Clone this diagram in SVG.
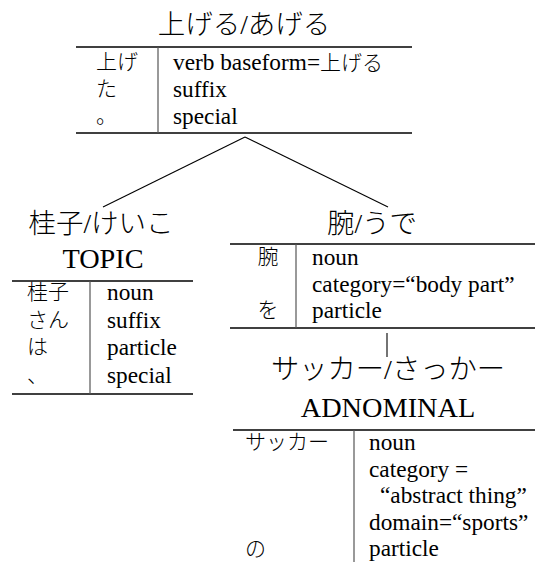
<svg xmlns="http://www.w3.org/2000/svg" width="545" height="562" viewBox="0 0 545 562">
<style>
.title{font-family:"Liberation Serif","Noto Sans CJK JP",serif;font-size:27.5px;fill:#000;text-anchor:middle;font-weight:300}
.role{font-family:"Liberation Serif",serif;font-size:28.3px;fill:#000;text-anchor:middle}
.t{font-family:"Liberation Serif","Noto Sans CJK JP",serif;font-size:23.3px;fill:#000}
.j{font-family:"Liberation Serif","Noto Sans CJK JP",sans-serif;font-size:21px;fill:#000;font-weight:300}
.jm{font-family:"Liberation Serif","Noto Sans CJK JP",sans-serif;font-size:21px;fill:#000;text-anchor:middle;font-weight:300}
.h{stroke:#000;stroke-width:1.3;fill:none}
.v{stroke:#555;stroke-width:1.2;fill:none}
.c{stroke:#000;stroke-width:1.1;fill:none}
</style>
<rect width="545" height="562" fill="#fff"/>
<g id="connectors">
<line class="c" x1="245" y1="137" x2="103" y2="207"/>
<line class="c" x1="245" y1="137" x2="388" y2="207"/>
<line class="c" x1="387" y1="333" x2="387" y2="357"/>
</g>
<g id="node-ageru">
<text class="title" x="244" y="34">上げる/あげる</text>
<line class="h" x1="76" y1="47" x2="412" y2="47"/>
<line class="h" x1="76" y1="133" x2="412" y2="133"/>
<line class="v" x1="158" y1="47" x2="158" y2="133"/>
<text class="j" x="96" y="69">上げ</text>
<text class="j" x="96" y="96">た</text>
<text class="j" x="96" y="123">。</text>
<text class="t" x="173" y="70">verb baseform=<tspan class="j">上げる</tspan></text>
<text class="t" x="173" y="97">suffix</text>
<text class="t" x="173" y="124">special</text>
</g>
<g id="node-keiko">
<text class="title" x="101" y="233">桂子/けいこ</text>
<text class="role" x="103" y="268">TOPIC</text>
<line class="h" x1="12" y1="281" x2="193" y2="281"/>
<line class="h" x1="12" y1="394" x2="193" y2="394"/>
<line class="v" x1="90" y1="281" x2="90" y2="394"/>
<text class="j" x="27" y="299">桂子</text>
<text class="j" x="27" y="326.5">さん</text>
<text class="j" x="27" y="354">は</text>
<text class="j" x="27" y="381.5">、</text>
<text class="t" x="107" y="300">noun</text>
<text class="t" x="107" y="327.5">suffix</text>
<text class="t" x="107" y="355">particle</text>
<text class="t" x="107" y="382.5">special</text>
</g>
<g id="node-ude">
<text class="title" x="372" y="233">腕/うで</text>
<line class="h" x1="230" y1="244" x2="535" y2="244"/>
<line class="h" x1="230" y1="328" x2="535" y2="328"/>
<line class="v" x1="296" y1="244" x2="296" y2="328"/>
<text class="jm" x="268" y="264">腕</text>
<text class="jm" x="268" y="317">を</text>
<text class="t" x="312" y="265">noun</text>
<text class="t" x="312" y="291.5">category=“body part”</text>
<text class="t" x="312" y="318">particle</text>
</g>
<g id="node-sakkaa">
<text class="title" x="388" y="379" style="font-size:28.3px">サッカー/さっかー</text>
<text class="role" x="388" y="417">ADNOMINAL</text>
<line class="h" x1="233" y1="430" x2="535" y2="430"/>
<line class="v" x1="354" y1="430" x2="354" y2="562"/>
<text class="j" x="245" y="449">サッカー</text>
<text class="j" x="245" y="555.5">の</text>
<text class="t" x="369" y="450">noun</text>
<text class="t" x="369" y="476.5">category =</text>
<text class="t" x="380" y="503">“abstract thing”</text>
<text class="t" x="369" y="529.5">domain=“sports”</text>
<text class="t" x="369" y="556">particle</text>
</g>
</svg>
